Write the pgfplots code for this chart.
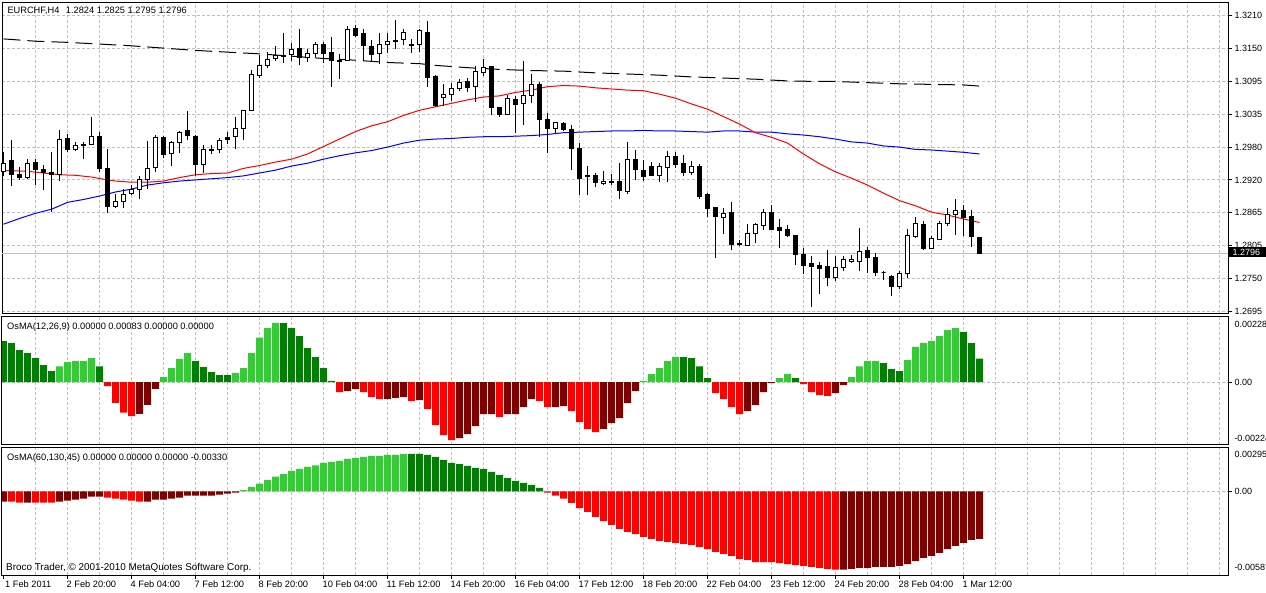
\documentclass[border=0pt]{standalone}
\usepackage{fontspec}
\setmainfont{Liberation Sans}
\usepackage{pgfplots}
\pgfplotsset{compat=1.18}
\usepackage{pgfplotstable}

\definecolor{lgreen}{RGB}{50,205,50}
\definecolor{dgreen}{RGB}{0,128,0}
\definecolor{bred}{RGB}{255,0,0}
\definecolor{dred}{RGB}{128,0,0}
\definecolor{gridgray}{RGB}{192,192,192}
\definecolor{mablue}{RGB}{0,0,255}

\newcommand\ys{5755.5}
\newcommand\mtfont{\fontsize{9}{10.8}\selectfont}
\newcommand\ttlfont{\fontsize{9.25}{11}\selectfont}

\pgfdeclareplotmark{candle}{%
  \pgfmathsetmacro\dO{(\vo-\vc)*\ys}%
  \pgfmathsetmacro\dH{(\vh-\vc)*\ys}%
  \pgfmathsetmacro\dL{(\vl-\vc)*\ys}%
  \pgfmathsetmacro\dOb{\dO+0.5}%
  \pgfsetlinewidth{1pt}%
  \pgfsetstrokecolor{black}%
  \pgfpathmoveto{\pgfqpoint{0pt}{\dL pt}}%
  \pgfpathlineto{\pgfqpoint{0pt}{\dH pt}}%
  \pgfusepath{stroke}%
  \ifdim\dO pt>0.05pt
    \pgfsetfillcolor{black}%
    \pgfpathrectanglecorners{\pgfqpoint{-2.5pt}{-0.5pt}}{\pgfqpoint{2.5pt}{\dOb pt}}%
    \pgfusepath{fill}%
  \else
    \pgfsetfillcolor{white}%
    \pgfpathrectanglecorners{\pgfqpoint{-2pt}{0pt}}{\pgfqpoint{2pt}{\dO pt}}%
    \pgfusepath{fill,stroke}%
  \fi
}

\pgfplotstableread{
i o h l c
0 1.2938 1.2973 1.2930 1.2953
1 1.2957 1.2993 1.2914 1.2934
2 1.2933 1.2947 1.2924 1.2928
3 1.2928 1.2960 1.2926 1.2953
4 1.2955 1.2960 1.2916 1.2942
5 1.2943 1.2950 1.2907 1.2937
6 1.2937 1.2972 1.2869 1.2933
7 1.2933 1.3011 1.2922 1.2995
8 1.2996 1.3003 1.2973 1.2977
9 1.2977 1.2989 1.2974 1.2983
10 1.2983 1.2989 1.2961 1.2986
11 1.2986 1.3034 1.2984 1.3000
12 1.3000 1.3007 1.2938 1.2944
13 1.2944 1.2978 1.2866 1.2878
14 1.2878 1.2899 1.2875 1.2886
15 1.2886 1.2908 1.2876 1.2899
16 1.2901 1.2915 1.2898 1.2908
17 1.2908 1.2930 1.2891 1.2925
18 1.2924 1.2992 1.2908 1.2944
19 1.2946 1.3002 1.2938 1.2998
20 1.2998 1.3000 1.2962 1.2969
21 1.2970 1.2992 1.2949 1.2989
22 1.2989 1.3009 1.2971 1.3006
23 1.3009 1.3043 1.2993 1.3001
24 1.3000 1.3003 1.2931 1.2951
25 1.2951 1.2984 1.2936 1.2976
26 1.2975 1.2984 1.2969 1.2976
27 1.2976 1.2996 1.2970 1.2993
28 1.2998 1.3008 1.2986 1.2995
29 1.2999 1.3033 1.2977 1.3013
30 1.3014 1.3044 1.2993 1.3044
31 1.3045 1.3115 1.3044 1.3108
32 1.3106 1.3141 1.3101 1.3122
33 1.3123 1.3147 1.3118 1.3134
34 1.3135 1.3156 1.3130 1.3140
35 1.3141 1.3179 1.3127 1.3139
36 1.3142 1.3161 1.3131 1.3151
37 1.3152 1.3186 1.3123 1.3137
38 1.3137 1.3151 1.3129 1.3143
39 1.3144 1.3163 1.3137 1.3160
40 1.3160 1.3163 1.3127 1.3144
41 1.3146 1.3173 1.3085 1.3131
42 1.3131 1.3142 1.3099 1.3130
43 1.3131 1.3191 1.3130 1.3186
44 1.3187 1.3193 1.3172 1.3175
45 1.3178 1.3186 1.3131 1.3157
46 1.3156 1.3167 1.3131 1.3142
47 1.3144 1.3180 1.3125 1.3160
48 1.3159 1.3180 1.3144 1.3165
49 1.3167 1.3202 1.3152 1.3165
50 1.3168 1.3186 1.3158 1.3180
51 1.3160 1.3168 1.3144 1.3158
52 1.3160 1.3186 1.3146 1.3183
53 1.3180 1.3200 1.3086 1.3102
54 1.3103 1.3106 1.3051 1.3053
55 1.3068 1.3091 1.3053 1.3073
56 1.3073 1.3092 1.3062 1.3083
57 1.3083 1.3099 1.3079 1.3094
58 1.3095 1.3101 1.3077 1.3084
59 1.3086 1.3121 1.3060 1.3113
60 1.3111 1.3134 1.3105 1.3120
61 1.3121 1.3122 1.3036 1.3050
62 1.3050 1.3051 1.3034 1.3038
63 1.3038 1.3072 1.3036 1.3066
64 1.3064 1.3070 1.3006 1.3055
65 1.3057 1.3130 1.3020 1.3070
66 1.3070 1.3108 1.3058 1.3090
67 1.3089 1.3095 1.2999 1.3029
68 1.3029 1.3040 1.2971 1.3014
69 1.3014 1.3025 1.3005 1.3024
70 1.3022 1.3025 1.3009 1.3011
71 1.3012 1.3020 1.2941 1.2979
72 1.2979 1.2988 1.2898 1.2927
73 1.2931 1.2948 1.2897 1.2930
74 1.2931 1.2936 1.2911 1.2919
75 1.2918 1.2940 1.2915 1.2922
76 1.2921 1.2934 1.2915 1.2919
77 1.2921 1.2953 1.2891 1.2905
78 1.2904 1.2989 1.2899 1.2959
79 1.2959 1.2976 1.2924 1.2942
80 1.2941 1.2959 1.2922 1.2930
81 1.2947 1.2955 1.2930 1.2932
82 1.2932 1.2953 1.2921 1.2948
83 1.2946 1.2974 1.2921 1.2965
84 1.2965 1.2973 1.2945 1.2951
85 1.2952 1.2967 1.2930 1.2937
86 1.2937 1.2956 1.2932 1.2947
87 1.2947 1.2952 1.2891 1.2895
88 1.2898 1.2901 1.2860 1.2875
89 1.2876 1.2877 1.2789 1.2860
90 1.2859 1.2876 1.2830 1.2865
91 1.2867 1.2885 1.2802 1.2811
92 1.2814 1.2820 1.2809 1.2811
93 1.2810 1.2848 1.2809 1.2831
94 1.2831 1.2849 1.2815 1.2847
95 1.2845 1.2874 1.2837 1.2868
96 1.2867 1.2881 1.2837 1.2838
97 1.2841 1.2856 1.2806 1.2836
98 1.2837 1.2846 1.2824 1.2827
99 1.2828 1.2829 1.2776 1.2795
100 1.2795 1.2805 1.2761 1.2776
101 1.2779 1.2791 1.2704 1.2773
102 1.2776 1.2782 1.2726 1.2770
103 1.2773 1.2802 1.2739 1.2754
104 1.2754 1.2791 1.2749 1.2771
105 1.2772 1.2791 1.2765 1.2785
106 1.2782 1.2794 1.2780 1.2785
107 1.2782 1.2841 1.2766 1.2799
108 1.2801 1.2808 1.2762 1.2789
109 1.2789 1.2797 1.2757 1.2763
110 1.2763 1.2766 1.2751 1.2763
111 1.2757 1.2759 1.2723 1.2739
112 1.2738 1.2765 1.2734 1.2762
113 1.2761 1.2838 1.2754 1.2828
114 1.2826 1.2860 1.2823 1.2848
115 1.2846 1.2852 1.2802 1.2805
116 1.2805 1.2826 1.2804 1.2822
117 1.2821 1.2852 1.2820 1.2849
118 1.2848 1.2875 1.2844 1.2864
119 1.2864 1.2891 1.2828 1.2870
120 1.2871 1.2881 1.2826 1.2859
121 1.2861 1.2872 1.2808 1.2826
122 1.2824 1.2825 1.2795 1.2796
}\ohlc

\pgfplotsset{mtaxis/.style={
  scale only axis, width=1226pt, anchor=south west,
  xmin=-0.1875, xmax=153.06,
  axis line style={black,line width=1pt},
  xtick={4,8,...,152}, xticklabels={}, xtick style={draw=none},
  xmajorgrids, ymajorgrids,
  major grid style={gridgray, line width=1pt, dash pattern=on 3pt off 2pt},
  ytick pos=right, yticklabel pos=right,
  tick align=outside, major tick length=4pt,
  ytick style={black,line width=1pt},
  yticklabel style={font=\mtfont, anchor=west, inner sep=0pt, xshift=2.3pt},
  scaled ticks=false,
  extra y tick style={grid=none, tick style={draw=none}},
}}

\begin{document}
\begin{tikzpicture}
\useasboundingbox (0,0) rectangle (1266pt,592pt);
\fill[white] (0,0) rectangle (1266pt,592pt);

% ---------- price panel ----------
\begin{axis}[mtaxis, at={(2pt,278.5pt)}, height=311.2pt,
  ymin=1.26919, ymax=1.32326,
  ytick={1.2695,1.27522,1.28094,1.28667,1.29239,1.29811,1.30383,1.30956,1.31528,1.3210},
  yticklabels={1.2695,1.2750,1.2805,1.2865,1.2920,1.2980,1.3035,1.3095,1.3150,1.3210},
]
\addplot[gridgray, line width=1pt, forget plot] coordinates {(-1,1.2796) (160,1.2796)};
\addplot[scatter, only marks, mark=candle,
  scatter/@pre marker code/.code={}, scatter/@post marker code/.code={},
  visualization depends on={\thisrow{o}\as\vo},
  visualization depends on={\thisrow{h}\as\vh},
  visualization depends on={\thisrow{l}\as\vl},
  visualization depends on={\thisrow{c}\as\vc},
] table[x=i, y=c] {\ohlc};
% black dashed MA
\addplot[black, line width=1pt, dash pattern=on 17pt off 7pt] coordinates {
(0,1.3169) (4,1.3165) (8,1.3163) (12,1.3160) (16,1.3157) (20,1.3153) (24,1.3149)
(28,1.3146) (32,1.3143) (36,1.3139) (40,1.3135) (44,1.3132) (48,1.3128) (52,1.3126)
(54,1.3123) (58,1.3119) (62,1.3116) (66,1.3114) (70,1.3113) (74,1.3110) (78,1.3108)
(82,1.3106) (86,1.3103) (90,1.3101) (94,1.3099) (98,1.3096) (102,1.3095) (104,1.3095)
(108,1.3093) (112,1.3091) (116,1.3090) (120,1.3089) (122,1.3087)};
% blue MA
\addplot[mablue, line width=1pt] coordinates {
(0,1.2847) (2,1.2857) (4,1.2866) (6,1.2873) (8,1.2885) (10,1.2890) (12,1.2896)
(14,1.2903) (16,1.2908) (18,1.2915) (20,1.2919) (22,1.2922) (24,1.2924) (26,1.2926)
(28,1.2928) (30,1.2931) (32,1.2936) (34,1.2941) (36,1.2948) (38,1.2953) (40,1.2960)
(42,1.2966) (44,1.2971) (46,1.2975) (48,1.2981) (50,1.2988) (52,1.2993) (54,1.2995)
(56,1.2996) (58,1.2998) (60,1.2999) (62,1.2999) (64,1.3000) (66,1.3001) (68,1.3003)
(70,1.3006) (72,1.3007) (74,1.3008) (76,1.3009) (78,1.3009) (80,1.3010) (82,1.3009)
(84,1.3009) (86,1.3008) (88,1.3007) (90,1.3009) (92,1.3009) (94,1.3007) (96,1.3007)
(98,1.3004) (100,1.3002) (102,1.2999) (104,1.2995) (106,1.2990) (108,1.2988) (110,1.2983)
(112,1.2981) (114,1.2977) (116,1.2976) (118,1.2974) (120,1.2972) (122,1.2969)};
% red MA
\addplot[bred, line width=1pt] coordinates {
(0,1.2940) (1,1.2940) (3,1.2939) (5,1.2936) (7,1.2933) (9,1.2932) (11,1.2929)
(13,1.2924) (14,1.2922) (16,1.2920) (18,1.2920) (20,1.2922) (22,1.2928) (24,1.2933)
(26,1.2935) (28,1.2936) (30,1.2944) (32,1.2949) (34,1.2955) (36,1.2960) (38,1.2969)
(40,1.2982) (42,1.2995) (44,1.3008) (46,1.3018) (48,1.3025) (50,1.3036) (52,1.3045)
(54,1.3051) (56,1.3057) (58,1.3063) (60,1.3068) (62,1.3070) (64,1.3076) (66,1.3080)
(68,1.3086) (70,1.3088) (72,1.3087) (74,1.3084) (76,1.3082) (78,1.3080) (80,1.3079)
(82,1.3073) (84,1.3066) (86,1.3056) (88,1.3047) (90,1.3034) (92,1.3021) (94,1.3006)
(96,1.2998) (98,1.2988) (100,1.2969) (102,1.2952) (104,1.2938) (106,1.2927) (108,1.2915)
(110,1.2901) (112,1.2888) (114,1.2879) (116,1.2868) (118,1.2863) (120,1.2856) (122,1.2850)};
\end{axis}

% ---------- OsMA(12,26,9) ----------
\begin{axis}[mtaxis, at={(2pt,147.3pt)}, height=128pt,
  ymin=-0.00221, ymax=0.00231,
  ytick={0}, yticklabels={0.00},
  extra y ticks={0.00205,-0.00199}, extra y tick labels={0.00228,-0.00224},
]
\addplot[ybar, bar width=7pt, bar shift=0pt, fill=lgreen, draw=none] coordinates {
(7,0.00056) (8,0.00071) (9,0.00074) (10,0.00074) (11,0.00085) (20,0.00018) (21,0.00049)
(22,0.00081) (23,0.00102) (29,0.00032) (30,0.00049) (31,0.00102) (32,0.00157) (33,0.00191)
(34,0.00208) (80,0.00004) (81,0.00028) (82,0.00049) (83,0.00074) (84,0.00088) (97,0.00014)
(98,0.00028) (106,0.00018) (107,0.00056) (108,0.00074) (109,0.00074) (113,0.00078)
(114,0.00124) (115,0.00138) (116,0.00145) (117,0.00162) (118,0.00184) (119,0.00191)};
\addplot[ybar, bar width=7pt, bar shift=0pt, fill=dgreen, draw=none] coordinates {
(0,0.00145) (1,0.00138) (2,0.00113) (3,0.00102) (4,0.00085) (5,0.00060) (6,0.00039)
(12,0.00056) (24,0.00074) (25,0.00053) (26,0.00035) (27,0.00025) (28,0.00025)
(35,0.00208) (36,0.00191) (37,0.00162) (38,0.00120) (39,0.00088) (40,0.00049) (41,0.00004)
(85,0.00088) (86,0.00085) (87,0.00056) (88,0.00014) (99,0.00014) (110,0.00067)
(111,0.00046) (112,0.00039) (120,0.00177) (121,0.00138) (122,0.00083)};
\addplot[ybar, bar width=7pt, bar shift=0pt, fill=bred, draw=none] coordinates {
(13,-0.00014) (14,-0.00073) (15,-0.00108) (16,-0.00120) (42,-0.00035) (45,-0.00035)
(46,-0.00053) (47,-0.00060) (51,-0.00067) (53,-0.00095) (54,-0.00152) (55,-0.00187)
(56,-0.00205) (62,-0.00124) (67,-0.00067) (68,-0.00088) (71,-0.00102) (72,-0.00141)
(73,-0.00166) (74,-0.00177) (89,-0.00039) (90,-0.00060) (91,-0.00088) (92,-0.00113)
(100,-0.00007) (101,-0.00035) (102,-0.00046) (103,-0.00049)};
\addplot[ybar, bar width=7pt, bar shift=0pt, fill=dred, draw=none] coordinates {
(17,-0.00112) (18,-0.00080) (19,-0.00024) (43,-0.00032) (44,-0.00025) (48,-0.00060)
(49,-0.00056) (50,-0.00053) (52,-0.00064) (57,-0.00198) (58,-0.00184) (59,-0.00155)
(60,-0.00113) (61,-0.00113) (63,-0.00113) (64,-0.00113) (65,-0.00088) (66,-0.00060)
(69,-0.00088) (70,-0.00085) (75,-0.00166) (76,-0.00145) (77,-0.00127) (78,-0.00074)
(79,-0.00032) (93,-0.00102) (94,-0.00081) (95,-0.00035) (96,-0.00004) (104,-0.00039)
(105,-0.00011)};
\end{axis}

% ---------- OsMA(60,130,45) ----------
\begin{axis}[mtaxis, at={(2pt,17pt)}, height=127.3pt,
  ymin=-0.00580, ymax=0.00302,
  ytick={0}, yticklabels={0.00},
  extra y ticks={0.00258,-0.00527}, extra y tick labels={0.00295,-0.00587},
]
\addplot[ybar, bar width=7pt, bar shift=0pt, fill=lgreen, draw=none] coordinates {
(30,0.00008) (31,0.00028) (32,0.00053) (33,0.00079) (34,0.00102) (35,0.00120)
(36,0.00141) (37,0.00155) (38,0.00169) (39,0.00180) (40,0.00196) (41,0.00203)
(42,0.00210) (43,0.00224) (44,0.00231) (45,0.00238) (46,0.00245) (47,0.00245)
(48,0.00252) (49,0.00252) (50,0.00259)};
\addplot[ybar, bar width=7pt, bar shift=0pt, fill=dgreen, draw=none] coordinates {
(51,0.00259) (52,0.00259) (53,0.00252) (54,0.00238) (55,0.00217) (56,0.00196)
(57,0.00189) (58,0.00176) (59,0.00162) (60,0.00155) (61,0.00134) (62,0.00113)
(63,0.00092) (64,0.00072) (65,0.00058) (66,0.00044) (67,0.00023)};
\addplot[ybar, bar width=7pt, bar shift=0pt, fill=bred, draw=none] coordinates {
(1,-0.00072) (2,-0.00079) (4,-0.00079) (5,-0.00079) (6,-0.00079)
(13,-0.00044) (14,-0.00051) (15,-0.00058) (16,-0.00065) (17,-0.00072)
(68,-0.00009) (69,-0.00030) (70,-0.00051) (71,-0.00081) (72,-0.00116) (73,-0.00143)
(74,-0.00178) (75,-0.00206) (76,-0.00233) (77,-0.00261) (78,-0.00282) (79,-0.00296)
(80,-0.00316) (81,-0.00330) (82,-0.00344) (83,-0.00351) (84,-0.00358) (85,-0.00365)
(86,-0.00372) (87,-0.00386) (88,-0.00400) (89,-0.00420) (90,-0.00434) (91,-0.00448)
(92,-0.00469) (93,-0.00476) (94,-0.00490) (95,-0.00490) (96,-0.00490) (97,-0.00497)
(98,-0.00504) (99,-0.00511) (100,-0.00517) (101,-0.00524) (102,-0.00531) (103,-0.00538)
(104,-0.00543)};
\addplot[ybar, bar width=7pt, bar shift=0pt, fill=dred, draw=none] coordinates {
(0,-0.00072) (3,-0.00079) (7,-0.00072) (8,-0.00065) (9,-0.00058) (10,-0.00051)
(11,-0.00037) (12,-0.00037) (18,-0.00072) (19,-0.00058) (20,-0.00058) (21,-0.00051)
(22,-0.00044) (23,-0.00030) (24,-0.00030) (25,-0.00030) (26,-0.00030) (27,-0.00023)
(28,-0.00016) (29,-0.00009)
(105,-0.00543) (106,-0.00538) (107,-0.00531) (108,-0.00531) (109,-0.00524) (110,-0.00524)
(111,-0.00524) (112,-0.00517) (113,-0.00504) (114,-0.00483) (115,-0.00462) (116,-0.00448)
(117,-0.00427) (118,-0.00400) (119,-0.00379) (120,-0.00358) (121,-0.00337) (122,-0.00330)};
\end{axis}

% ---------- time-scale ticks ----------
\foreach \k in {0,...,15} {
  \draw[black, line width=1pt] ({(3.5+64*\k)*1pt},17pt) -- ++(0,-3.5pt);
}

% ---------- texts ----------
\begin{scope}[every node/.style={font=\ttlfont, inner sep=0pt, anchor=base west}]
\node at (7.3pt,578.1pt) {EURCHF,H4\hspace{4pt} 1.2824 1.2825 1.2795 1.2796};
\node at (7pt,262.1pt) {OsMA(12,26,9) 0.00000 0.00083 0.00000 0.00000};
\node at (7pt,131.1pt) {OsMA(60,130,45) 0.00000 0.00000 0.00000 -0.00330};
\node[font=\fontsize{9.9}{11}\selectfont] at (6pt,21.8pt) {Broco Trader, © 2001-2010 MetaQuotes Software Corp.};
\node at (5pt,4.3pt) {1 Feb 2011};
\node at (66.5pt,4.3pt) {2 Feb 20:00};
\node at (130.5pt,4.3pt) {4 Feb 04:00};
\node at (194.5pt,4.3pt) {7 Feb 12:00};
\node at (258.5pt,4.3pt) {8 Feb 20:00};
\node at (322.5pt,4.3pt) {10 Feb 04:00};
\node at (386.5pt,4.3pt) {11 Feb 12:00};
\node at (450.5pt,4.3pt) {14 Feb 20:00};
\node at (514.5pt,4.3pt) {16 Feb 04:00};
\node at (578.5pt,4.3pt) {17 Feb 12:00};
\node at (642.5pt,4.3pt) {18 Feb 20:00};
\node at (706.5pt,4.3pt) {22 Feb 04:00};
\node at (770.5pt,4.3pt) {23 Feb 12:00};
\node at (834.5pt,4.3pt) {24 Feb 20:00};
\node at (898.5pt,4.3pt) {28 Feb 04:00};
\node at (962.5pt,4.3pt) {1 Mar 12:00};
\end{scope}
\fill[black] (1229.3pt,334.7pt) rectangle (1266pt,344.7pt);
\node[font=\mtfont, text=white, inner sep=0pt, anchor=west] at (1232.5pt,339.7pt) {1.2796};
\end{tikzpicture}
\end{document}
